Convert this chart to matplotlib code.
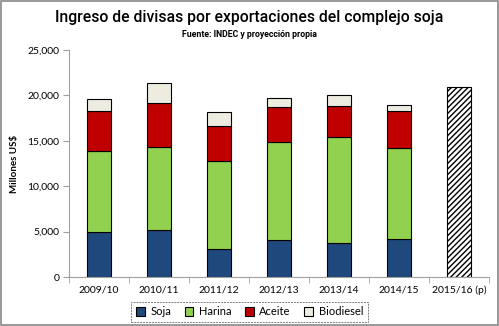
import numpy as np
import matplotlib
matplotlib.use('Agg')
from matplotlib import pyplot as plt
from matplotlib.patches import Rectangle

years = ['2009/10', '2010/11', '2011/12', '2012/13', '2013/14', '2014/15', '2015/16 (p)']
soja = [4950, 5150, 3050, 4050, 3700, 4200]
harina = [8950, 9150, 9750, 10800, 11750, 10000]
aceite = [4400, 4850, 3800, 3850, 3350, 4100]
biodiesel = [1250, 2200, 1550, 1050, 1250, 600]
proyeccion = 20900

colors = ['#1F497D', '#92D050', '#C00000', '#EEECE1']
names = ['Soja', 'Harina', 'Aceite', 'Biodiesel']

plt.rcParams['font.family'] = ['Lato', 'DejaVu Sans']

fig = plt.figure(figsize=(4.99, 3.26), dpi=100)
ax = fig.add_axes([0.138, 0.150, 0.842, 0.697])

x = np.arange(len(soja))
bottom = np.zeros(len(soja))
handles = []
for vals, c, n in zip([soja, harina, aceite, biodiesel], colors, names):
    b = ax.bar(x, vals, 0.4, bottom=bottom, color=c, edgecolor='black', linewidth=0.8, label=n)
    handles.append(b)
    bottom += np.array(vals)

ax.bar([len(soja)], [proyeccion], 0.4, color='white', edgecolor='black', hatch='//////', linewidth=0.8)

ax.set_xlim(-0.5, len(years) - 0.5)
ax.set_ylim(0, 25000)
ax.set_yticks(np.arange(0, 25001, 5000))
ax.set_yticklabels(['{:,}'.format(v) for v in range(0, 25001, 5000)], fontsize=7.5)
ax.set_xticks(range(len(years)))
ax.set_xticklabels(years, fontsize=7.5)
ax.set_xticks(np.arange(-0.5, len(years), 1), minor=True)
ax.tick_params(axis='x', which='major', length=0, pad=6)
ax.tick_params(axis='x', which='minor', length=4, color='#A0A0A0')
ax.tick_params(axis='y', length=4, color='#A0A0A0', pad=3)
for s in ['top', 'right']:
    ax.spines[s].set_visible(False)
for s in ['left', 'bottom']:
    ax.spines[s].set_color('#A0A0A0')
ax.set_ylabel('Millones US$', fontsize=7, fontweight='bold', labelpad=6)

fig.text(0.5, 0.945, 'Ingreso de divisas por exportaciones del complejo soja',
         ha='center', va='center', fontsize=11.3, fontweight='medium', family=['Roboto', 'DejaVu Sans'])
fig.text(0.5, 0.895, 'Fuente: INDEC y proyección propia', ha='center', va='center',
         fontsize=6.3, fontweight='bold', family=['Roboto', 'DejaVu Sans'])

leg = fig.legend(handles=handles, loc='center', bbox_to_anchor=(0.5, 0.043), ncol=4,
                 fontsize=8, frameon=True, fancybox=False, handlelength=0.8, handleheight=0.8,
                 handletextpad=0.5, columnspacing=1.2, borderpad=0.4)
leg.get_frame().set_edgecolor('#606060')
leg.get_frame().set_linestyle((0, (2, 1)))
leg.get_frame().set_linewidth(0.7)

fig.patches.append(Rectangle((0.002, 0.003), 0.995, 0.994, transform=fig.transFigure,
                             fill=False, edgecolor='#888888', linewidth=1.2))

fig.savefig('out.png', dpi=100)
